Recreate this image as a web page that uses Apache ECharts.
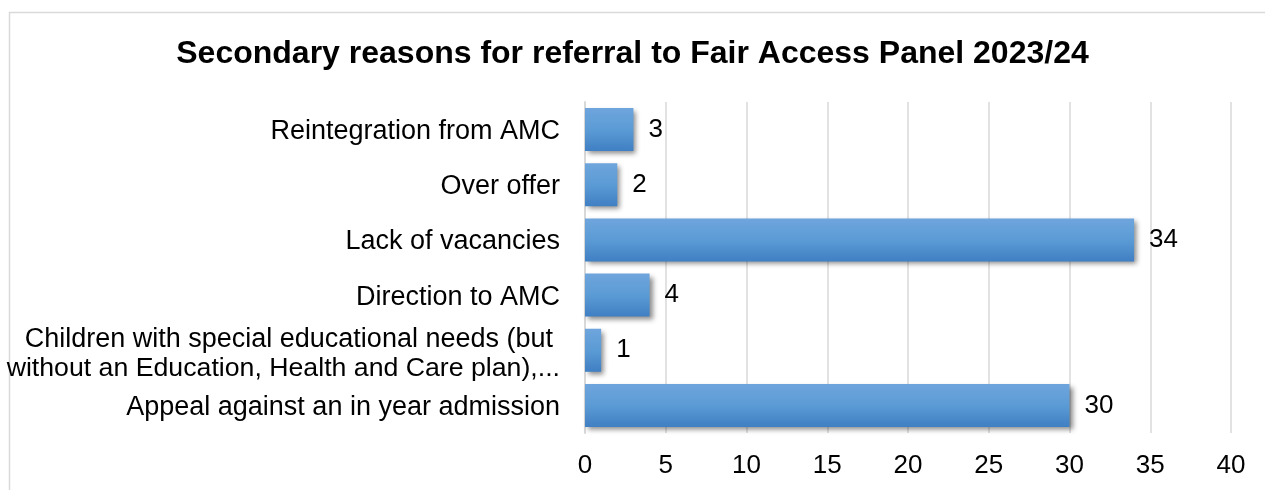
<!DOCTYPE html>
<html>
<head>
<meta charset="utf-8">
<script src="https://cdn.jsdelivr.net/npm/echarts@6/dist/echarts.min.js"></script>
<style>
  html, body { margin: 0; padding: 0; background: #fff; }
  #main { width: 1265px; height: 490px; }
</style>
</head>
<body>
<div id="main"></div>
<script>
// categories bottom -> top (ECharts draws first category at the bottom)
const categories = [
  'Appeal against an in year admission',
  'Children with special educational needs (but\nwithout an Education, Health and Care plan),...',
  'Direction to AMC',
  'Lack of vacancies',
  'Over offer',
  'Reintegration from AMC'
];
const referrals = [30, 1, 4, 34, 2, 3];
const xTicks = [0, 40, 5]; // min, max, interval

const font = 'Liberation Sans, Arial, sans-serif';
const chart = echarts.init(document.getElementById('main'));

const option = {
  animation: false,
  backgroundColor: '#fff',
  graphic: [{
    type: 'rect',
    shape: { x: 9.5, y: 12.5, width: 1400, height: 600 },
    style: { fill: 'none', stroke: '#d9d9d9', lineWidth: 1.5 },
    silent: true
  }],
  title: {
    text: 'Secondary reasons for referral to Fair Access Panel 2023/24',
    left: 'center',
    top: 33,
    textStyle: { fontFamily: font, fontSize: 32, fontWeight: 'bold', color: '#000' }
  },
  grid: { left: 585, right: 34, top: 102, bottom: 57, outerBoundsMode: 'none', containLabel: false },
  xAxis: {
    type: 'value',
    min: xTicks[0],
    max: xTicks[1],
    interval: xTicks[2],
    axisLine: { show: false },
    axisTick: { show: false },
    axisLabel: { margin: 20, fontFamily: font, fontSize: 26, color: '#000' },
    splitLine: { lineStyle: { color: '#d9d9d9', width: 1.5 } }
  },
  yAxis: {
    type: 'category',
    data: categories,
    axisLine: { lineStyle: { color: '#d9d9d9', width: 2 } },
    axisTick: { show: false },
    axisLabel: {
      margin: 25,
      fontFamily: font,
      fontSize: 27,
      color: '#000',
      padding: [4, 0, 0, 0],
      formatter: function (v) {
        if (v.indexOf('\n') < 0) return v;
        const parts = v.split('\n');
        return '{a|' + parts[0] + '}\n{b|' + parts[1] + '}';
      },
      rich: {
        a: { fontFamily: font, fontSize: 27, color: '#000', lineHeight: 32, padding: [6, 7, 0, 0] },
        b: { fontFamily: font, fontSize: 26.7, color: '#000', lineHeight: 32 }
      }
    }
  },
  series: [{
    type: 'bar',
    data: referrals,
    barCategoryGap: '22%',
    itemStyle: {
      color: new echarts.graphic.LinearGradient(0, 0, 0, 1, [
        { offset: 0, color: '#6fa5dd' },
        { offset: 0.5, color: '#5b9bd5' },
        { offset: 1, color: '#3f7fc3' }
      ]),
      shadowColor: 'rgba(0,0,0,0.45)',
      shadowBlur: 5,
      shadowOffsetX: 3,
      shadowOffsetY: 3
    },
    label: {
      show: true,
      position: 'right',
      distance: 15,
      fontFamily: font,
      fontSize: 26,
      color: '#000'
    }
  }]
};

chart.setOption(option);
</script>
</body>
</html>
